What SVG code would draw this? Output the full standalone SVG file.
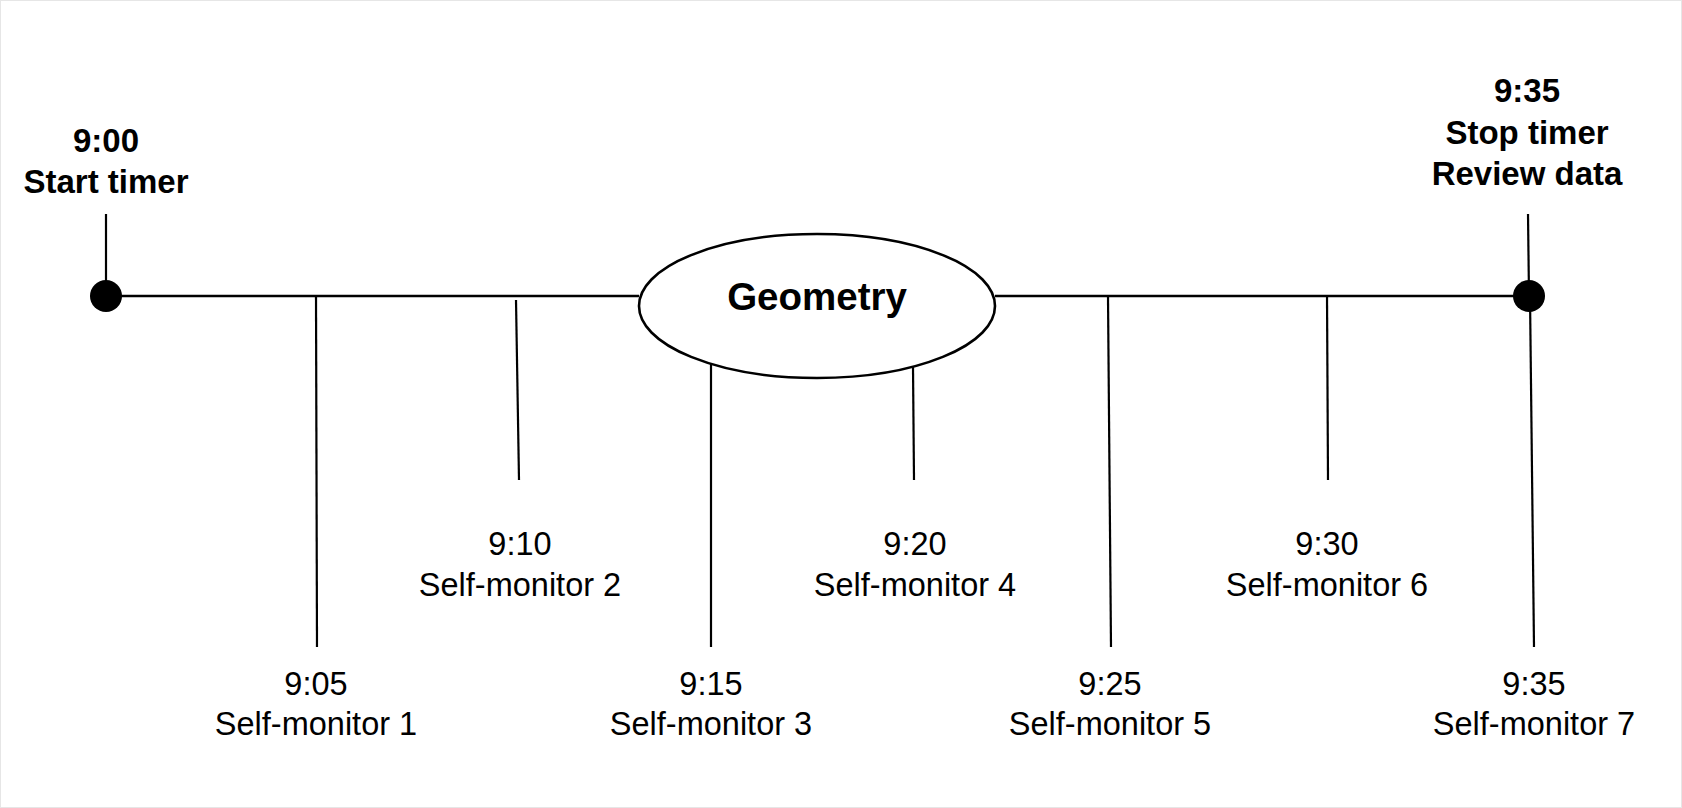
<svg xmlns="http://www.w3.org/2000/svg" width="1682" height="808" viewBox="0 0 1682 808">
<style>
.ln{stroke:#000;stroke-width:2.6;fill:none;stroke-linecap:butt}
.tk{stroke:#000;stroke-width:2.2;fill:none}
.b{font-family:"Liberation Sans",Arial,sans-serif;font-weight:bold;font-size:33px;fill:#000;text-anchor:middle}
.n{font-family:"Liberation Sans",Arial,sans-serif;font-size:32.5px;fill:#000;text-anchor:middle}
.g{font-family:"Liberation Sans",Arial,sans-serif;font-weight:bold;font-size:38.5px;fill:#000;text-anchor:middle}
</style>
<rect x="0.5" y="0.5" width="1681" height="807" fill="#fff" stroke="#e6e6e6" stroke-width="1"/>
<g id="connectors">
<line class="ln" x1="106" y1="296" x2="639" y2="296"/>
<line class="ln" x1="995" y1="296" x2="1529" y2="296"/>
<line class="tk" x1="106" y1="214" x2="106" y2="296"/>
<line class="tk" x1="1528" y1="214" x2="1529" y2="296"/>
<line class="tk" x1="1530" y1="296" x2="1534" y2="647"/>
<line class="tk" x1="316" y1="297" x2="317" y2="647"/>
<line class="tk" x1="516" y1="300" x2="519" y2="480"/>
<line class="tk" x1="711" y1="364" x2="711" y2="647"/>
<line class="tk" x1="913" y1="367" x2="914" y2="480"/>
<line class="tk" x1="1108" y1="297" x2="1111" y2="647"/>
<line class="tk" x1="1327" y1="295" x2="1328" y2="480"/>
</g>
<g id="start">
<circle cx="106" cy="296" r="16" fill="#000"/>
<text class="b" x="106" y="152">9:00</text>
<text class="b" x="106" y="193">Start timer</text>
</g>
<g id="end">
<circle cx="1529" cy="296" r="16" fill="#000"/>
<text class="b" x="1527" y="102">9:35</text>
<text class="b" x="1527" y="144">Stop timer</text>
<text class="b" x="1527" y="185">Review data</text>
</g>
<g id="geometry">
<ellipse cx="817" cy="306" rx="178" ry="72" fill="#fff" stroke="#000" stroke-width="2.6"/>
<text class="g" x="817" y="310">Geometry</text>
</g>
<g id="sm1"><text class="n" x="316" y="695">9:05</text><text class="n" x="316" y="735">Self-monitor 1</text></g>
<g id="sm2"><text class="n" x="520" y="555">9:10</text><text class="n" x="520" y="596">Self-monitor 2</text></g>
<g id="sm3"><text class="n" x="711" y="695">9:15</text><text class="n" x="711" y="735">Self-monitor 3</text></g>
<g id="sm4"><text class="n" x="915" y="555">9:20</text><text class="n" x="915" y="596">Self-monitor 4</text></g>
<g id="sm5"><text class="n" x="1110" y="695">9:25</text><text class="n" x="1110" y="735">Self-monitor 5</text></g>
<g id="sm6"><text class="n" x="1327" y="555">9:30</text><text class="n" x="1327" y="596">Self-monitor 6</text></g>
<g id="sm7"><text class="n" x="1534" y="695">9:35</text><text class="n" x="1534" y="735">Self-monitor 7</text></g>
</svg>
